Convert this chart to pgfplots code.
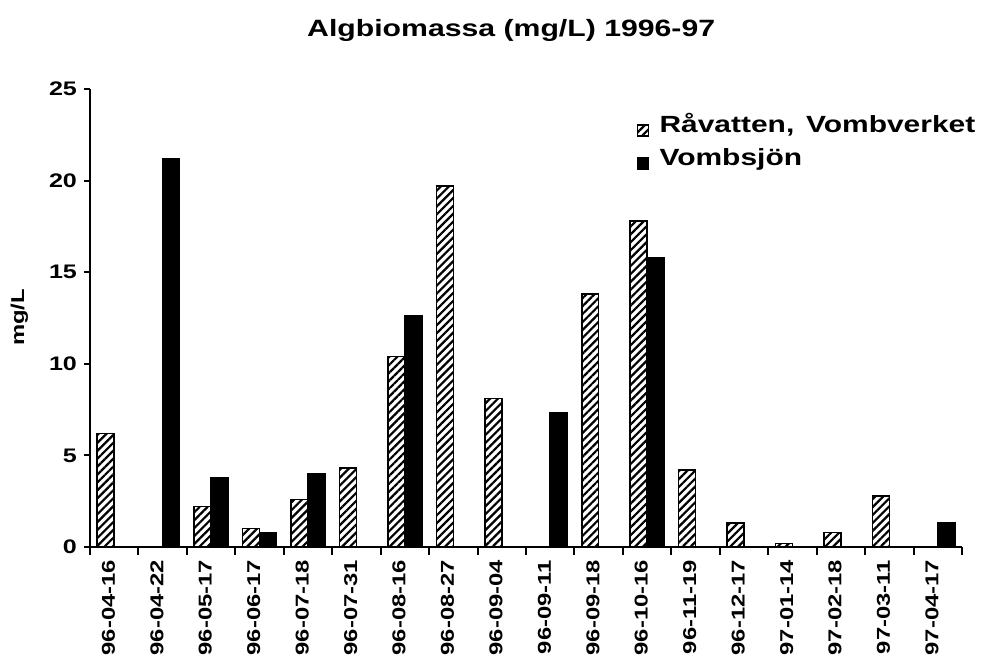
\documentclass[border=0pt]{standalone}
\usepackage{fontspec}
\setmainfont{Liberation Sans}[FakeStretch=1.28]
\usepackage{pgfplots}
\pgfplotsset{compat=1.18}
\usetikzlibrary{patterns.meta}
\begin{document}
\begin{tikzpicture}
\useasboundingbox (-45pt,-60pt) rectangle (446.5pt,273.5pt);
\begin{axis}[
  at={(0,0)}, anchor=south west,
  scale only axis, width=436pt, height=229pt,
  xmin=-0.5, xmax=17.5, ymin=0, ymax=25,
  axis x line=bottom, axis y line=left,
  axis line style={-, line width=1pt, black},
  ybar, bar width=0.35,
  ytick={0,5,...,25},
  xtick={-0.12,0.88,1.88,2.88,3.88,4.88,5.88,6.88,7.88,8.88,9.88,10.88,11.88,12.88,13.88,14.88,15.88,16.88},
  xticklabels={96-04-16,96-04-22,96-05-17,96-06-17,96-07-18,96-07-31,96-08-16,96-08-27,96-09-04,96-09-11,96-09-18,96-10-16,96-11-19,96-12-17,97-01-14,97-02-18,97-03-11,97-04-17},
  minor xtick={-0.5,0.5,...,17.5},
  major x tick style={draw=none},
  minor x tick style={line width=1pt, black},
  minor tick length=4pt,
  major y tick style={line width=1pt, black},
  major tick length=3pt,
  tick align=outside,
  x tick label style={rotate=90, anchor=east, font=\bfseries\fontsize{9.3}{11}\selectfont},
  y tick label style={font=\bfseries\fontsize{9.8}{11}\selectfont},
  /pgf/number format/assume math mode=true,
  ylabel={mg/L},
  ylabel style={font=\bfseries\fontsize{9.3}{11}\selectfont, at={(axis description cs:-0.081,0.501)}, anchor=center},
  title={Algbiomassa (mg/L) 1996-97},
  title style={font=\bfseries\fontsize{11.8}{14}\selectfont, at={(axis description cs:0.483,1.127)}, anchor=center, yshift=-6pt},
  legend style={at={(0.627,0.945)}, anchor=north west, draw=none, fill=none,
    font=\bfseries\fontsize{11.7}{14}\selectfont, inner sep=0pt, row sep=4.5pt, column sep=0pt,
    nodes={inner sep=0pt, text height=9pt, text depth=3pt}},
  legend cell align=left,
  legend image code/.code={\draw[#1, line width=0.6pt] (0pt,-4.75pt) rectangle (5.5pt,0.75pt); \path (10.5pt,0pt);},
]
\addplot[draw=black, line width=0.8pt, pattern={Lines[angle=45, distance=2.8pt, line width=1.1pt]}, bar shift=-0.175] coordinates {
(0,6.2) (2,2.2) (3,1.0) (4,2.6) (5,4.3) (6,10.4) (7,19.7) (8,8.1) (10,13.8) (11,17.8) (12,4.2) (13,1.3) (14,0.2) (15,0.8) (16,2.8)};
\addlegendentry{Råvatten,\enspace Vombverket}
\addplot[draw=black, fill=black, line width=0.8pt, bar shift=0.175] coordinates {
(1,21.2) (2,3.8) (3,0.8) (4,4.0) (6,12.6) (9,7.3) (11,15.8) (17,1.3)};
\addlegendentry{Vombsjön}
\end{axis}
\end{tikzpicture}
\end{document}
